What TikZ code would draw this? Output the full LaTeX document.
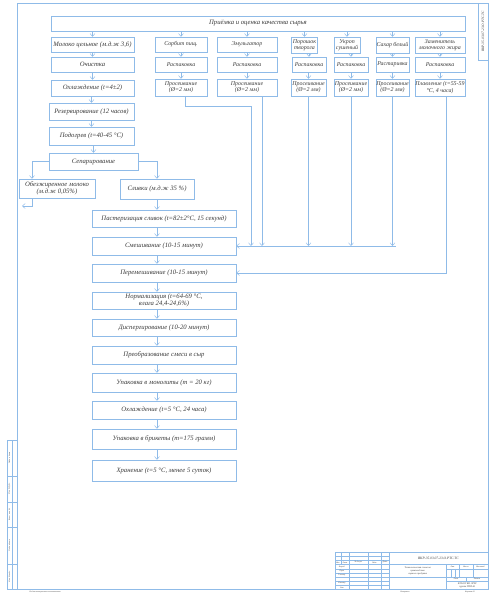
\documentclass[tikz,border=0pt]{standalone}
\usepackage{fontspec}
\setmainfont{Liberation Serif}
\usepackage{xcolor}
\usepackage{tikz}
\usetikzlibrary{arrows.meta}
\definecolor{sheetLine}{HTML}{8FBBE8}
\definecolor{stageText}{HTML}{3A3A3A}

\begin{document}
\begin{tikzpicture}[
  x=0.5mm, y=-0.5mm,
  font=\itshape\fontsize{9.5}{10}\selectfont,
  stage/.style={draw=sheetLine, line width=0.7pt, align=center, inner sep=1pt, text=stageText},
  ingr/.style={stage, font=\itshape\fontsize{8.4}{8.8}\selectfont, inner sep=0.5pt},
  sz/.style 2 args={minimum width=#1*0.5mm, minimum height=#2*0.5mm},
  flow/.style={-{Straight Barb[length=4pt,width=7pt]}, draw=sheetLine, line width=0.7pt},
  sheet/.style={draw=sheetLine, line width=0.7pt},
  thin/.style={draw=sheetLine, line width=0.4pt},
  stamp/.style={font=\itshape\fontsize{2.8}{3.2}\selectfont, text=stageText, inner sep=0pt, align=center},
]
\useasboundingbox (0,0) rectangle (493,595);

% Sheet frame
\draw[sheet] (17,3) rectangle (488,589.5);
\draw[sheet] (478,3) rectangle (488,60);
\node[stamp, font=\itshape\fontsize{5}{6}\selectfont, rotate=90] (topCode) at (483,31.5) {ВКР-35.03.07-23.О.РТС.ТС};

% Reception of raw materials
\node[stage, sz={414}{15}] (recep) at (258,23.5) {Приёмка и оценка качества сырья};

% Milk line
\node[stage, sz={83}{15}] (milk) at (92.5,44.5) {Молоко цельное (м.д.ж 3,6)};
\node[stage, sz={83}{15}] (clean) at (92.5,64.5) {Очистка};
\node[stage, sz={83}{16}] (cool) at (92.5,88) {Охлаждение (t=4±2)};
\node[stage, sz={85}{17}] (reserve) at (91.5,111.5) {Резервирование (12 часов)};
\node[stage, sz={85}{18}] (heat) at (91.5,136) {Подогрев (t=40-45 °С)};
\node[stage, sz={89}{17}] (sep) at (93.5,161.5) {Сепарирование};
\node[stage, sz={76}{19}] (skim) at (57,188.5) {Обезжиренное молоко\\(м.д.ж 0,05\%)};
\node[stage, sz={74}{20}] (cream) at (157,189) {Сливки (м.д.ж 35 \%)};

% Main line
\node[stage, sz={144}{17}] (past) at (164,218.5) {Пастеризация сливок (t=82±2°С, 15 секунд)};
\node[stage, sz={144}{18}] (mix) at (164,246) {Смешивание (10-15 минут)};
\node[stage, sz={144}{18}] (stir) at (164,273) {Перемешивание (10-15 минут)};
\node[stage, sz={144}{17}] (norm) at (164,300.5) {Нормализация (t=64-69 °С,\\влага 24,4-24,6\%)};
\node[stage, sz={144}{17}] (disp) at (164,327.5) {Диспергирование (10-20 минут)};
\node[stage, sz={144}{18}] (conv) at (164,355) {Преобразование смеси в сыр};
\node[stage, sz={144}{19}] (pack) at (164,382.5) {Упаковка в монолиты (m = 20 кг)};
\node[stage, sz={144}{18}] (chill) at (164,410) {Охлаждение (t=5 °С, 24 часа)};
\node[stage, sz={144}{20}] (brick) at (164,439) {Упаковка в брикеты (m=175 грамм)};
\node[stage, sz={144}{21}] (store) at (164,470.5) {Хранение (t=5 °С, менее 5 суток)};

% Other ingredients
\node[ingr, sz={52}{15}] (sorb) at (181,44.5) {Сорбит пищ.};
\node[ingr, sz={52}{15}] (sorbOpen) at (181,64.5) {Распаковка};
\node[ingr, sz={52}{17}] (sorbSieve) at (181,87.5) {Просеивание\\(Ø=2 мм)};

\node[ingr, sz={60}{15}] (emul) at (247,44.5) {Эмульгатор};
\node[ingr, sz={60}{15}] (emulOpen) at (247,64.5) {Распаковка};
\node[ingr, sz={60}{17}] (emulSieve) at (247,87.5) {Просеивание\\(Ø=2 мм)};

\node[ingr, sz={26}{16}] (curd) at (304.5,45) {Порошок\\творога};
\node[ingr, sz={34}{15}] (curdOpen) at (309,64.5) {Распаковка};
\node[ingr, sz={35}{17}] (curdSieve) at (308.5,87.5) {Просеивание\\(Ø=2 мм)};

\node[ingr, sz={26}{16}] (dill) at (347,45) {Укроп\\сушеный};
\node[ingr, sz={34}{15}] (dillOpen) at (351,64.5) {Распаковка};
\node[ingr, sz={34}{17}] (dillSieve) at (351,87.5) {Просеивание\\(Ø=2 мм)};

\node[ingr, sz={33}{16}] (sugar) at (392.5,45) {Сахар белый};
\node[ingr, sz={33}{15}] (sugarOpen) at (392.5,64.5) {Растаривка};
\node[ingr, sz={33}{17}] (sugarSieve) at (392.5,87.5) {Просеивание\\(Ø=2 мм)};

\node[ingr, sz={50}{16}] (fat) at (440,45) {Заменитель\\молочного жира};
\node[ingr, sz={50}{15}] (fatOpen) at (440,64.5) {Распаковка};
\node[ingr, sz={50}{17}] (fatMelt) at (440,87.5) {Плавление (t=55-59\\°С, 4 часа)};

% Arrows from reception
\foreach \b in {milk, sorb, emul, curd, dill, sugar, fat}
  \draw[flow] (\b.north |- recep.south) -- (\b.north);

% Arrows inside columns
\foreach \a/\b in {milk/clean, clean/cool, cool/reserve, reserve/heat, heat/sep,
  sorb/sorbOpen, sorbOpen/sorbSieve, emul/emulOpen, emulOpen/emulSieve,
  curd/curdOpen, curdOpen/curdSieve, dill/dillOpen, dillOpen/dillSieve,
  sugar/sugarOpen, sugarOpen/sugarSieve, fat/fatOpen, fatOpen/fatMelt}
  \draw[flow] (\a.south) -- (\a.south -| \b.north) -- (\b.north);

% Separation
\coordinate (skimOut) at (22,206);
\draw[flow] (sep.west) -| ([xshift=-12.5mm]skim.north);
\draw[flow] ([xshift=-12.5mm]skim.south) |- (skimOut);
\draw[flow] (sep.east) -| (cream.north);

% Main line arrows
\foreach \a/\b in {cream/past, past/mix, mix/stir, stir/norm, norm/disp, disp/conv,
  conv/pack, pack/chill, chill/brick, brick/store}
  \draw[flow] (\a.south -| cream) -- (\b.north -| cream);

% Ingredients to mixing
\coordinate (sorbBend) at (251,106);
\draw[flow] ([xshift=2mm]sorbSieve.south) |- (sorbBend) -- (sorbBend |- mix.east);
\draw[flow] ([xshift=7.5mm]emulSieve.south) -- ([xshift=7.5mm]emulSieve.south |- mix.east);
\foreach \s in {curdSieve, dillSieve, sugarSieve}
  \draw[flow] (\s.south) -- (\s.south |- mix.east);
\draw[flow] ([xshift=1.5mm]sugarSieve.south |- mix.east) -- (mix.east);
\draw[flow] ([xshift=3mm]fatMelt.south) |- (stir.east);

% Title block
\draw[sheet] (335,552) rectangle (488,589.5);
\foreach \y in {556.2,560.4,564.6,568.8,573,577.2,581.4,585.6}
  \draw[thin] (335,\y) -- (388.8,\y);
\draw[thin] (341,552) -- (341,564.6);
\foreach \x in {349,368,381}
  \draw[thin] (\x,552) -- (\x,589.5);
\draw[sheet] (388.8,552) -- (388.8,589.5);
\draw[sheet] (388.8,564.6) -- (488,564.6);
\draw[sheet] (446.7,564.6) -- (446.7,589.5);
\draw[thin] (388.8,577.2) -- (446.7,577.2);
\draw[thin] (446.7,568.8) -- (488,568.8);
\draw[thin] (446.7,577.2) -- (488,577.2);
\draw[thin] (446.7,581.4) -- (488,581.4);
\foreach \x in {450.8,454.9}
  \draw[thin] (\x,568.8) -- (\x,577.2);
\draw[thin] (459,564.6) -- (459,577.2);
\draw[thin] (473,564.6) -- (473,577.2);
\draw[thin] (466,577.2) -- (466,581.4);

\node[stamp, font=\itshape\fontsize{5}{6}\selectfont] (docCode) at (438.4,558.3) {ВКР-35.03.07-23.О.РТС.ТС};
\node[stamp, font=\itshape\fontsize{3.4}{3.8}\selectfont] (docName) at (417.7,570.9) {Технологическая схема на\\производство\\сырного продукта};
\node[stamp] (hIzm) at (338,562.5) {Изм.};
\node[stamp] (hList) at (345,562.5) {Лист};
\node[stamp] (hDoc) at (358.5,562.5) {№ докум.};
\node[stamp] (hSign) at (374.5,562.5) {Подп.};
\node[stamp] (hDate) at (385,562.5) {Дата};
\node[stamp] (rDev) at (342,566.7) {Разраб.};
\node[stamp] (rChk) at (342,570.9) {Пров.};
\node[stamp] (rTc) at (342,575.1) {Т.контр.};
\node[stamp] (rNc) at (342,583.5) {Н.контр.};
\node[stamp] (rApp) at (342,587.7) {Утв.};
\node[stamp] (hLit) at (452.8,566.7) {Лит.};
\node[stamp] (hMass) at (466,566.7) {Масса};
\node[stamp] (hScale) at (480.5,566.7) {Масштаб};
\node[stamp] (hSheet) at (456,579.3) {Лист};
\node[stamp] (hSheets) at (477,579.3) {Листов};
\node[stamp, font=\itshape\fontsize{3.6}{4}\selectfont] (org) at (467.4,585.5) {ФГБОУ ВО ЛГАУ\\группа ТПП-41};
\node[stamp] (copied) at (405,592.5) {Копировал};
\node[stamp] (format) at (470,592.5) {Формат А1};

% Left strip
\draw[thin] (7,440) rectangle (17,589.5);
\draw[thin] (12,440) -- (12,589.5);
\foreach \y in {476,501.8,527.6,563.7}
  \draw[thin] (7,\y) -- (17,\y);
\node[stamp, rotate=90] (sInv) at (9.5,576.6) {Инв. № подл.};
\node[stamp, rotate=90] (sSign1) at (9.5,545.6) {Подп. и дата};
\node[stamp, rotate=90] (sRepl) at (9.5,514.7) {Взам. инв. №};
\node[stamp, rotate=90] (sDup) at (9.5,488.9) {Инв. № дубл.};
\node[stamp, rotate=90] (sSign2) at (9.5,458) {Подп. и дата};
\node[stamp] (noCom) at (45,592.5) {Не для коммерческого использования};

\end{tikzpicture}
\end{document}
